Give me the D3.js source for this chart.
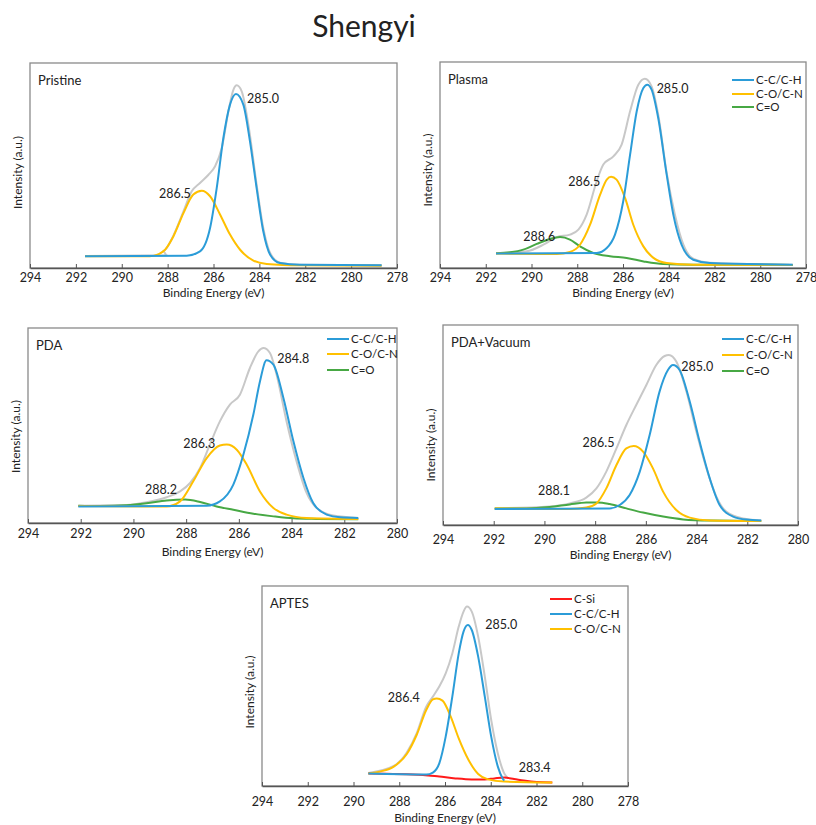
<!DOCTYPE html>
<html>
<head>
<meta charset="utf-8">
<script src="https://cdn.jsdelivr.net/npm/d3@7"></script>
<style>
  body { margin: 0; background: #fff; }
  text { font-family: Lato, "Open Sans", sans-serif; fill: #222; }
</style>
</head>
<body>
<div id="plot"></div>
<script>
// tick labels
const ticks294to278 = [294, 292, 290, 288, 286, 284, 282, 280, 278];
const ticks294to280 = [294, 292, 290, 288, 286, 284, 282, 280];

// curves: [binding energy (eV), intensity (% of plot height)]
// Pristine
const pristineEnv = [[291.6,5.9],[288.04,6.2],[288.19,8.3],[287.75,15.8],[287.31,27.6],[286.95,37.4],[286.59,41.5],[286.22,45.5],[285.93,49.6],[285.64,58.5],[285.35,76.4],[285.13,87.0],[284.99,89.1],[284.77,86.2],[284.48,69.9],[284.12,40.7],[283.83,19.5],[283.53,7.3],[283.1,2.6],[282.23,1.6],[278.67,1.3]];
const pristineCC = [[291.6,5.7],[287.17,6.0],[286.59,8.1],[286.15,19.5],[285.86,39.0],[285.57,63.4],[285.28,79.7],[285.02,84.9],[284.7,79.7],[284.41,61.8],[284.12,39.0],[283.83,17.9],[283.53,6.5],[283.1,2.4],[282.23,1.6],[278.67,1.3]];
const pristineCO = [[291.6,5.7],[288.77,5.7],[288.19,8.1],[287.75,15.4],[287.31,26.8],[286.88,35.8],[286.51,37.7],[286.15,35.0],[285.71,26.0],[285.28,16.3],[284.84,8.9],[284.26,3.6],[283.68,2.0],[282.23,1.3],[278.67,1.1]];

// Plasma
const plasmaEnv = [[291.55,7.1],[290.21,8.1],[289.48,11.3],[288.9,15.0],[288.32,16.2],[287.95,18.6],[287.59,25.9],[287.15,42.1],[286.86,50.2],[286.42,54.2],[286.06,59.9],[285.69,76.1],[285.33,89.0],[285.04,91.9],[284.75,88.2],[284.46,74.4],[284.09,46.1],[283.73,25.9],[283.36,11.3],[282.93,4.5],[282.2,2.6],[278.58,1.6]];
const plasmaCC = [[291.55,7.0],[287.15,7.3],[286.71,9.7],[286.35,16.2],[285.99,32.4],[285.69,55.0],[285.4,76.1],[285.11,87.4],[284.94,89.0],[284.75,86.6],[284.46,72.8],[284.09,45.3],[283.8,25.9],[283.44,11.3],[282.93,4.0],[282.2,2.4],[278.58,1.6]];
const plasmaCO = [[291.55,7.0],[288.9,6.8],[288.32,7.8],[287.88,11.3],[287.44,21.0],[287.0,35.6],[286.71,42.9],[286.52,44.3],[286.28,42.9],[285.91,34.0],[285.55,21.0],[285.11,10.5],[284.67,4.9],[284.09,2.4],[282.93,1.6],[278.58,1.5]];
const plasmaCdO = [[291.55,7.1],[290.94,7.6],[290.36,8.9],[289.77,11.7],[289.19,14.1],[288.75,15.0],[288.32,13.8],[287.88,10.5],[287.3,7.3],[286.57,5.7],[285.84,4.9],[285.1,3.2],[284.24,1.9],[282.93,1.6],[278.58,1.5]];

// PDA
const pdaEnv = [[292.09,8.9],[290.26,9.2],[289.5,10.6],[288.74,13.2],[288.23,16.2],[287.85,20.5],[287.47,28.2],[287.1,40.2],[286.72,52.1],[286.34,60.7],[285.96,65.8],[285.58,79.5],[285.26,88.0],[285.07,89.7],[284.82,87.2],[284.57,76.1],[284.19,52.1],[283.81,31.6],[283.43,15.4],[283.05,7.7],[282.42,3.8],[281.47,2.6]];
const pdaCC = [[292.09,8.5],[287.22,8.9],[286.72,11.1],[286.21,19.7],[285.83,35.0],[285.45,55.6],[285.2,72.6],[284.95,83.4],[284.69,81.2],[284.31,64.1],[283.93,41.9],[283.55,23.1],[283.18,10.3],[282.67,4.3],[282.16,2.9],[281.47,2.6]];
const pdaCO = [[292.09,8.7],[289.5,8.4],[288.74,8.5],[288.23,11.1],[287.73,21.4],[287.22,33.3],[286.72,39.7],[286.46,40.2],[286.08,37.6],[285.7,29.9],[285.2,16.2],[284.69,7.7],[284.19,4.3],[283.43,2.6],[281.47,2.1]];
const pdaCdO = [[292.09,8.9],[291.27,8.7],[290.26,9.1],[289.5,10.1],[288.74,11.5],[288.04,12.0],[287.47,10.8],[286.84,8.5],[286.21,6.8],[285.45,4.8],[284.69,3.4],[283.93,2.4],[283.05,2.1],[281.47,1.9]];

// PDA+Vacuum
const vacEnv = [[291.96,8.3],[289.79,9.3],[289.0,10.8],[288.35,13.7],[287.95,18.3],[287.56,26.7],[287.16,38.3],[286.77,50.0],[286.38,60.0],[285.98,70.0],[285.59,80.0],[285.26,84.5],[285.09,85.0],[284.8,81.7],[284.4,66.7],[284.01,46.7],[283.61,28.3],[283.22,14.2],[282.83,6.7],[282.17,3.3],[281.45,2.3]];
const vacCC = [[291.96,8.0],[287.43,8.3],[287.03,10.0],[286.64,15.0],[286.24,26.7],[285.85,45.0],[285.46,66.7],[285.13,77.5],[284.93,80.0],[284.67,77.5],[284.27,61.7],[283.88,41.7],[283.48,23.3],[283.09,10.0],[282.56,4.2],[282.04,2.7],[281.45,2.3]];
const vacCO = [[291.96,8.2],[289.0,8.0],[288.35,8.7],[287.95,10.8],[287.56,18.3],[287.16,30.0],[286.77,38.3],[286.48,39.5],[286.11,36.7],[285.72,28.3],[285.32,16.7],[284.8,7.5],[284.27,3.7],[283.48,2.3],[281.45,2.0]];
const vacCdO = [[291.96,8.3],[290.71,8.3],[289.79,9.0],[289.0,10.3],[288.35,11.2],[287.89,11.3],[287.43,10.5],[286.77,8.3],[286.11,6.2],[285.32,4.2],[284.53,2.8],[283.48,2.2],[281.45,2.0]];

// APTES
const aptesEnv = [[289.35,6.5],[288.24,10.0],[287.67,16.7],[287.24,26.3],[286.82,39.7],[286.53,44.7],[286.25,49.7],[285.97,56.3],[285.68,66.3],[285.4,79.7],[285.19,87.2],[285.04,89.7],[284.83,87.2],[284.55,74.7],[284.26,54.7],[283.98,33.0],[283.69,16.3],[283.41,6.3],[283.24,3.8]];
const aptesCSi = [[289.35,6.2],[286.96,5.5],[286.25,4.7],[285.54,3.8],[284.83,3.3],[284.26,3.3],[283.84,3.8],[283.41,4.2],[282.98,3.5],[282.56,2.7],[281.99,2.0],[281.31,1.8]];
const aptesCC = [[289.35,6.2],[286.82,5.7],[286.53,6.7],[286.25,11.3],[285.97,24.7],[285.68,44.7],[285.4,66.3],[285.19,77.2],[285.0,80.5],[284.83,78.0],[284.55,64.7],[284.26,44.7],[283.98,24.7],[283.69,9.7],[283.48,3.8],[283.41,2.7]];
const aptesCO = [[289.35,6.3],[288.81,7.3],[288.24,9.7],[287.67,16.0],[287.24,25.5],[286.82,38.0],[286.53,43.3],[286.36,43.8],[286.11,42.7],[285.75,34.7],[285.4,23.8],[284.97,13.0],[284.55,6.0],[284.12,3.3],[283.41,2.2],[281.31,1.7]];

// peak labels: [text, eV, intensity]
const pristineLabels = [["285.0", 284.54, 80.5], ["286.5", 288.38, 34.1]];
const plasmaLabels = [["285.0", 284.53, 84.8], ["286.5", 288.39, 39.8], ["288.6", 290.36, 13.1]];
const pdaLabels = [["284.8", 284.54, 82.1], ["286.3", 288.11, 38.5], ["288.2", 289.56, 14.9]];
const vacLabels = [["285.0", 284.6, 77.2], ["286.5", 288.5, 38.9], ["288.1", 290.25, 15.0]];
const aptesLabels = [["285.0", 284.24, 78.3], ["286.4", 288.5, 41.8], ["283.4", 282.78, 6.8]];

const colors = {
  env: "#c8c8c8",
  cc: "#2b9cd8",
  co: "#ffc000",
  cdo: "#47a844",
  csi: "#ff1a1a"
};

const w = 816;
const h = 825;

const svg = d3.select("div#plot")
  .append("svg")
    .attr("width", w)
    .attr("height", h);

svg.append("rect")
  .attr("width", w)
  .attr("height", h)
  .attr("fill", "#fff");

svg.append("text")
  .attr("x", 364)
  .attr("y", 37)
  .attr("text-anchor", "middle")
  .style("font-size", "30px")
  .text("Shengyi");

// panel layout
const panels = [
  { name: "Pristine", x0: 30, x1: 397, y0: 63, y1: 268, ticks: ticks294to278,
    pad: 5, titleDy: 29, yTitleDy: 7, labels: pristineLabels,
    series: [[pristineEnv, "env"], [pristineCO, "co"], [pristineCC, "cc"]],
    legend: null },
  { name: "Plasma", x0: 440, x1: 806, y0: 62, y1: 268, ticks: ticks294to278,
    pad: 5, titleDy: 29, yTitleDy: 5, labels: plasmaLabels,
    series: [[plasmaEnv, "env"], [plasmaCdO, "cdo"], [plasmaCO, "co"], [plasmaCC, "cc"]],
    legend: { dx: -74, dy: [18, 32, 45], items: [["C-C/C-H", "cc"], ["C-O/C-N", "co"], ["C=O", "cdo"]] } },
  { name: "PDA", x0: 28, x1: 397, y0: 328, y1: 523, ticks: ticks294to280,
    pad: 6, titleDy: 33, yTitleDy: 11, labels: pdaLabels,
    series: [[pdaEnv, "env"], [pdaCdO, "cdo"], [pdaCO, "co"], [pdaCC, "cc"]],
    legend: { dx: -70, dy: [11, 26, 42], items: [["C-C/C-H", "cc"], ["C-O/C-N", "co"], ["C=O", "cdo"]] } },
  { name: "PDA+Vacuum", x0: 443, x1: 798, y0: 325, y1: 525, ticks: ticks294to280,
    pad: 10, titleDy: 34, yTitleDy: 20, labels: vacLabels,
    series: [[vacEnv, "env"], [vacCdO, "cdo"], [vacCO, "co"], [vacCC, "cc"]],
    legend: { dx: -76, dy: [14, 30, 46], items: [["C-C/C-H", "cc"], ["C-O/C-N", "co"], ["C=O", "cdo"]] } },
  { name: "APTES", x0: 262, x1: 628, y0: 586, y1: 786, ticks: ticks294to278,
    pad: 11, titleDy: 36, yTitleDy: 6, labels: aptesLabels,
    series: [[aptesEnv, "env"], [aptesCSi, "csi"], [aptesCO, "co"], [aptesCC, "cc"]],
    legend: { dx: -78, dy: [13, 28, 43], items: [["C-Si", "csi"], ["C-C/C-H", "cc"], ["C-O/C-N", "co"]] } }
];

panels.forEach(function(p) {
  const g = svg.append("g");

  const xScale = d3.scaleLinear()
    .domain([p.ticks[0], p.ticks[p.ticks.length - 1]])
    .range([p.x0, p.x1]);

  const yScale = d3.scaleLinear()
    .domain([0, 100])
    .range([p.y1, p.y0]);

  // frame
  g.append("rect")
    .attr("x", p.x0)
    .attr("y", p.y0)
    .attr("width", p.x1 - p.x0)
    .attr("height", p.y1 - p.y0)
    .attr("fill", "none")
    .attr("stroke", "#8a8a8a")
    .attr("stroke-width", 1.3);

  // x axis
  const xAxis = d3.axisBottom(xScale)
    .tickValues(p.ticks)
    .tickFormat(d3.format("d"))
    .tickSizeInner(-4)
    .tickSizeOuter(0)
    .tickPadding(p.pad);

  const ax = g.append("g")
    .attr("transform", `translate(0, ${p.y1})`)
    .call(xAxis);
  ax.select(".domain").attr("stroke", "#555").attr("stroke-width", 1.3);
  ax.selectAll(".tick line").attr("stroke", "#555");
  ax.selectAll(".tick text")
    .style("font-size", "12.5px")
    .style("font-family", "Lato, sans-serif")
    .attr("fill", "#222");

  // axis titles
  g.append("text")
    .attr("x", (p.x0 + p.x1) / 2)
    .attr("y", p.y1 + p.titleDy)
    .attr("text-anchor", "middle")
    .style("font-size", "12px")
    .text("Binding Energy (eV)");

  g.append("text")
    .attr("transform", `translate(${p.x0 - 8}, ${(p.y0 + p.y1) / 2 + p.yTitleDy}) rotate(-90)`)
    .attr("text-anchor", "middle")
    .style("font-size", "12px")
    .text("Intensity (a.u.)");

  // panel name
  g.append("text")
    .attr("x", p.x0 + 8)
    .attr("y", p.y0 + 22)
    .style("font-size", "13px")
    .text(p.name);

  // curves
  const line = d3.line()
    .x(d => xScale(d[0]))
    .y(d => yScale(d[1]))
    .curve(d3.curveMonotoneX);

  g.selectAll("path.curve")
    .data(p.series)
    .enter()
    .append("path")
      .attr("class", "curve")
      .attr("d", d => line(d[0]))
      .attr("fill", "none")
      .attr("stroke", d => colors[d[1]])
      .attr("stroke-width", 2)
      .attr("stroke-linejoin", "round");

  // peak labels
  g.selectAll("text.peak")
    .data(p.labels)
    .enter()
    .append("text")
      .attr("class", "peak")
      .attr("x", d => xScale(d[1]))
      .attr("y", d => yScale(d[2]))
      .style("font-size", "12.5px")
      .text(d => d[0]);

  // legend
  if (p.legend) {
    const lg = g.append("g")
      .attr("transform", `translate(${p.x1 + p.legend.dx}, ${p.y0})`);
    p.legend.items.forEach(function(item, i) {
      const yy = p.legend.dy[i];
      lg.append("line")
        .attr("x1", 0)
        .attr("x2", 22)
        .attr("y1", yy)
        .attr("y2", yy)
        .attr("stroke", colors[item[1]])
        .attr("stroke-width", 2);
      lg.append("text")
        .attr("x", 24)
        .attr("y", yy + 4)
        .style("font-size", "11.5px")
        .text(item[0]);
    });
  }
});
</script>
</body>
</html>
